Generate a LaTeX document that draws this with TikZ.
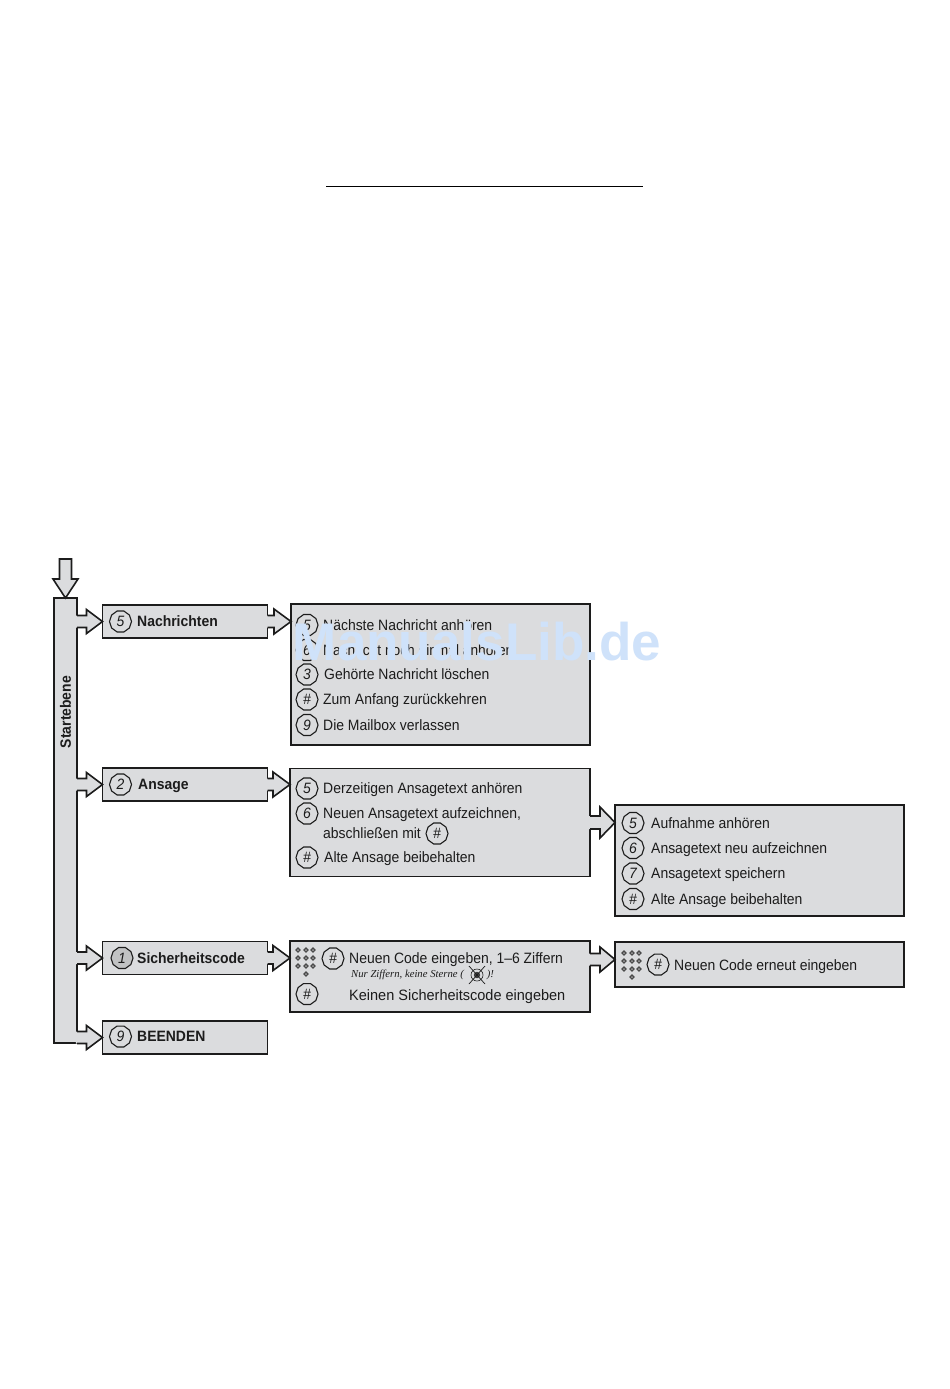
\documentclass[tikz,border=0pt]{standalone}
\usepackage{fontspec}
\setmainfont{Liberation Sans}[FakeStretch=0.93]
\newfontfamily\serifit{Liberation Serif}[ItalicFont=* Italic]
\newfontfamily\wmfont{Liberation Sans}
\usetikzlibrary{calc,shapes.geometric}
\definecolor{ink}{RGB}{28,28,28}
\definecolor{panel}{RGB}{219,220,222}
\definecolor{wmblue}{RGB}{207,226,250}
\tikzset{
  box/.style={draw=ink,line width=1.8pt,fill=panel,inner sep=0pt,outer sep=0pt},
  head/.style={anchor=west,inner sep=0pt,text=ink,yshift=-1pt,font=\fontsize{15}{18}\selectfont\bfseries,text height=11pt,text depth=3pt},
  txt/.style={anchor=west,inner sep=0pt,text=ink,yshift=-1pt,font=\fontsize{15}{18}\selectfont,text height=11pt,text depth=3pt},
  key/.style={regular polygon,regular polygon sides=10,draw=ink,line width=1.1pt,fill=panel,minimum size=22pt,inner sep=0pt,text=ink,font=\fontsize{15}{15}\selectfont\itshape},
}
% block arrow: start, tip, head half width, stem half width, head length
\newcommand{\barrow}[5]{%
  \path let \p1=(#1), \p2=(#2) in
    [fill=panel] (\x1-1.2pt,\y1+#4pt) -- (\x2-#5pt,\y1+#4pt) -- (\x2-#5pt,\y1+#3pt) -- (\x2,\y1)
      -- (\x2-#5pt,\y1-#3pt) -- (\x2-#5pt,\y1-#4pt) -- (\x1-1.2pt,\y1-#4pt) -- cycle;
  \draw[draw=ink,line width=1.6pt,line join=miter] let \p1=(#1), \p2=(#2) in
    (\x1,\y1+#4pt) -- (\x2-#5pt,\y1+#4pt) -- (\x2-#5pt,\y1+#3pt) -- (\x2,\y1)
      -- (\x2-#5pt,\y1-#3pt) -- (\x2-#5pt,\y1-#4pt) -- (\x1,\y1-#4pt);
}
\newcommand{\keypad}[2]{%
  \foreach \dx/\dy in {0/0,8/0,15/0,0/8,8/8,15/8,0/16,8/16,15/16,8/24}{
    \fill[ink!80] (#1+\dx-2.8,#2+\dy) -- (#1+\dx,#2+\dy-2.8) -- (#1+\dx+2.8,#2+\dy) -- (#1+\dx,#2+\dy+2.8) -- cycle;
    \fill[panel!70!ink] (#1+\dx-1,#2+\dy) -- (#1+\dx,#2+\dy-1) -- (#1+\dx+1,#2+\dy) -- (#1+\dx,#2+\dy+1) -- cycle;
  }
}
\begin{document}
\begin{tikzpicture}[x=1pt,y=-1pt]
\useasboundingbox (0,0) rectangle (950,1389);
\fill[white] (0,0) rectangle (950,1389);
% top rule
\coordinate (ruleA) at (326,186);
\coordinate (ruleB) at (643,186);
\draw[black,line width=.9pt] (ruleA) -- (ruleB);

% spine
\node[box,minimum width=23,minimum height=445] (spine) at (65.5,820.5) {};
\node[inner sep=0pt,text=ink,font=\fontsize{15}{18}\selectfont\bfseries] (spinelabel) at (65.5,712) {\rotatebox{90}{Startebene}};

% entry arrow
\coordinate (entry) at (65.5,559);
\path[fill=panel] (entry) ++(-6,0) -- ++(12,0) -- ++(0,20) -- ++(6.5,0) -- (spine.north) -- (53,579) -- (59.5,579) -- cycle;
\draw[draw=ink,line width=1.6pt] (entry) ++(-6,0) -- ++(12,0) -- ++(0,20) -- ++(6.5,0) -- (spine.north) -- (53,579) -- (59.5,579) -- cycle;

% menu boxes
\node[box,minimum width=165,minimum height=33] (nach) at (185,621.5) {};
\node[box,minimum width=165,minimum height=33] (ans) at (185,784.5) {};
\node[box,minimum width=165,minimum height=33] (sich) at (185,958) {};
\node[box,minimum width=165,minimum height=33] (been) at (185,1037.5) {};

% panels
\node[box,minimum width=299,minimum height=141] (pmsg) at (440.5,674.5) {};
\node[box,minimum width=300,minimum height=108] (pans) at (440,822.5) {};
\node[box,minimum width=289,minimum height=111] (pauf) at (759.5,860.5) {};
\node[box,minimum width=300,minimum height=71] (pcode) at (440,976.5) {};
\node[box,minimum width=289,minimum height=45] (pcode2) at (759.5,964.5) {};
\coordinate (aufin) at (pauf.west |- 0,822.5);
\coordinate (codein) at (pcode2.west |- 0,959.5);

% arrows
\barrow{spine.east |- nach.west}{nach.west}{12}{6}{16}
\barrow{spine.east |- ans.west}{ans.west}{12}{6}{16}
\barrow{spine.east |- sich.west}{sich.west}{12}{6}{16}
\barrow{spine.east |- been.west}{been.west}{12}{6}{16}
\barrow{nach.east}{pmsg.west |- nach.east}{12.5}{6}{17}
\barrow{ans.east}{pans.west |- ans.east}{12.5}{6}{17}
\barrow{sich.east}{pcode.west |- sich.east}{12.5}{6}{17}
\barrow{pans.east |- aufin}{aufin}{15.5}{6.5}{15}
\barrow{pcode.east |- codein}{codein}{12.5}{6}{15}

% menu labels
\node[key] (k1) at (120.5,621.5) {5};
\node[head] (t1) at (137,621.5) {Nachrichten};
\node[key] (k2) at (120.5,784.5) {2};
\node[head] (t2) at (138,784.5) {Ansage};
\node[key,fill=panel!88!black] (k3) at (122,958) {1};
\node[head] (t3) at (137,958) {Sicherheitscode};
\node[key] (k4) at (120.5,1036.5) {9};
\node[head] (t4) at (137,1036.5) {BEENDEN};

% messages panel
\node[key] (m1k) at (307,625) {5};
\node[txt] (m1) at (323,625) {Nächste Nachricht anhören};
\node[key] (m2k) at (307,650) {6};
\node[txt] (m2) at (323,650) {\scalebox{0.985}[1]{Nachricht noch einmal anhören}};
\node[key] (m3k) at (307,674.5) {3};
\node[txt] (m3) at (324,674.5) {Gehörte Nachricht löschen};
\node[key] (m4k) at (307,699.5) {\#};
\node[txt] (m4) at (323,699.5) {Zum Anfang zurückkehren};
\node[key] (m5k) at (307,725) {9};
\node[txt] (m5) at (323,725) {Die Mailbox verlassen};

% greeting panel
\node[key] (a1k) at (307,788.5) {5};
\node[txt] (a1) at (323,788.5) {Derzeitigen Ansagetext anhören};
\node[key] (a2k) at (307,813.5) {6};
\node[txt] (a2) at (323,813.5) {Neuen Ansagetext aufzeichnen,};
\node[txt] (a3) at (323,833.5) {abschließen mit};
\node[key] (a3k) at (437,833.5) {\#};
\node[key] (a4k) at (307,857.5) {\#};
\node[txt] (a4) at (324,857.5) {Alte Ansage beibehalten};

% recording panel
\node[key] (r1k) at (633,823) {5};
\node[txt] (r1) at (651,823) {Aufnahme anhören};
\node[key] (r2k) at (633,848) {6};
\node[txt] (r2) at (651,848) {Ansagetext neu aufzeichnen};
\node[key] (r3k) at (633,873.5) {7};
\node[txt] (r3) at (651,873.5) {Ansagetext speichern};
\node[key] (r4k) at (633,899) {\#};
\node[txt] (r4) at (651,899) {Alte Ansage beibehalten};

% code panel
\keypad{298}{950}
\node[key] (c1k) at (333,958.5) {\#};
\node[txt] (c1) at (349,958) {Neuen Code eingeben, 1–6 Ziffern};
\node[anchor=west,inner sep=0pt,text=ink,font=\serifit\fontsize{10.7}{12}\selectfont\itshape] (c2) at (351,975) {Nur Ziffern, keine Sterne (\hspace{23pt})!};
\node[circle,draw=ink,line width=.6pt,inner sep=0pt,minimum size=12pt] (star) at (477,975) {};
\fill[ink!85] (star.center) circle (3.2pt);
\draw[ink,line width=.7pt] (star.center) ++(-8,-9) -- ++(16,18);
\draw[ink,line width=.7pt] (star.center) ++(8,-9) -- ++(-16,18);
\node[key] (c3k) at (307,994) {\#};
\node[txt] (c3) at (349,995) {\scalebox{1.04}[1]{Keinen Sicherheitscode eingeben}};

% code repeat panel
\keypad{624}{953}
\node[key] (d1k) at (658,964.5) {\#};
\node[txt] (d1) at (674,965) {Neuen Code erneut eingeben};

% watermark
\node[inner sep=0pt,text=wmblue,font=\wmfont\fontsize{53}{55}\selectfont\bfseries] (wm) at (477,641.5) {ManualsLib.de};
\end{tikzpicture}
\end{document}
